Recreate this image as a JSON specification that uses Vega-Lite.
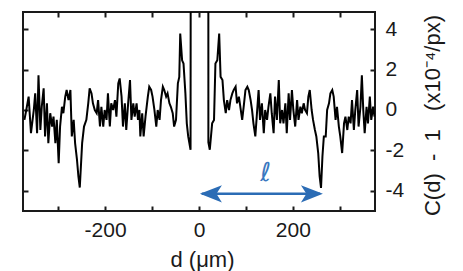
{
  "$schema": "https://vega.github.io/schema/vega-lite/v6.json",
  "width": 352,
  "height": 199,
  "autosize": {"type": "none"},
  "padding": {"left": 23, "top": 12, "right": 88, "bottom": 60},
  "background": "white",
  "config": {
    "view": {"stroke": "#1a1a1a", "strokeWidth": 2},
    "font": "Liberation Sans",
    "axis": {
      "domain": false,
      "grid": false,
      "tickColor": "#1a1a1a",
      "tickWidth": 2,
      "tickSize": -5,
      "labelFont": "Liberation Sans",
      "labelFontSize": 21,
      "labelColor": "#1a1a1a",
      "titleFont": "Liberation Sans",
      "titleFontWeight": "normal",
      "titleFontSize": 22,
      "titleColor": "#1a1a1a"
    }
  },
  "layer": [
    {
      "data": {"values": [
        {"d": -372, "v": -0.49}, {"d": -368, "v": 0}, {"d": -363, "v": 0.66}, {"d": -358, "v": -1.15},
        {"d": -352, "v": 0}, {"d": -349, "v": 0.82}, {"d": -345, "v": -1.15}, {"d": -342, "v": 1.72},
        {"d": -338, "v": -0.99}, {"d": -335, "v": 0.16}, {"d": -331, "v": 1.07}, {"d": -328, "v": -1.31},
        {"d": -324, "v": 0.33}, {"d": -321, "v": -1.64}, {"d": -317, "v": -0.16}, {"d": -313, "v": -0.82},
        {"d": -310, "v": -0.33}, {"d": -306, "v": -1.64}, {"d": -303, "v": -0.49}, {"d": -299, "v": -2.63},
        {"d": -296, "v": -0.82}, {"d": -292, "v": 0.16}, {"d": -289, "v": -0.16}, {"d": -285, "v": 0.66},
        {"d": -282, "v": 0.99}, {"d": -278, "v": 0.49}, {"d": -274, "v": 0.99}, {"d": -271, "v": -1.31},
        {"d": -267, "v": -0.49}, {"d": -264, "v": -1.64}, {"d": -260, "v": -2.46}, {"d": -257, "v": -3.28},
        {"d": -254, "v": -3.84}, {"d": -249, "v": -1.64}, {"d": -245, "v": -0.82}, {"d": -240, "v": -0.49},
        {"d": -236, "v": 0.33}, {"d": -233, "v": 1.07}, {"d": -229, "v": 0.82}, {"d": -226, "v": 0.33},
        {"d": -222, "v": 0}, {"d": -218, "v": -0.16}, {"d": -215, "v": 0.49}, {"d": -211, "v": -0.82},
        {"d": -208, "v": 0.16}, {"d": -204, "v": -0.82}, {"d": -201, "v": 0}, {"d": -197, "v": -0.49},
        {"d": -194, "v": 0.82}, {"d": -190, "v": -0.82}, {"d": -187, "v": 0.33}, {"d": -183, "v": 0},
        {"d": -179, "v": 0.49}, {"d": -176, "v": -0.33}, {"d": -172, "v": 1.32}, {"d": -169, "v": 1.56},
        {"d": -165, "v": 0.66}, {"d": -162, "v": -0.82}, {"d": -158, "v": 0.33}, {"d": -155, "v": -0.99},
        {"d": -151, "v": 0.33}, {"d": -147, "v": 1.48}, {"d": -144, "v": -0.49}, {"d": -140, "v": 0.33},
        {"d": -137, "v": -0.33}, {"d": -133, "v": 0.33}, {"d": -130, "v": -0.49}, {"d": -127, "v": 0},
        {"d": -125, "v": -1.31}, {"d": -121, "v": -0.16}, {"d": -118, "v": -1.31}, {"d": -114, "v": -0.33},
        {"d": -109, "v": 0.66}, {"d": -106, "v": 1.15}, {"d": -102, "v": 0.99}, {"d": -99, "v": 0.66},
        {"d": -95, "v": 0}, {"d": -91, "v": -0.82}, {"d": -88, "v": 0}, {"d": -84, "v": -0.49},
        {"d": -81, "v": 0.49}, {"d": -77, "v": 1.15}, {"d": -74, "v": 0.99}, {"d": -70, "v": 0.66},
        {"d": -67, "v": 0.82}, {"d": -63, "v": 0.33}, {"d": -60, "v": 0.16}, {"d": -56, "v": -0.16},
        {"d": -53, "v": -0.82}, {"d": -49, "v": -0.49}, {"d": -45, "v": 1.32}, {"d": -42, "v": 1.64},
        {"d": -40, "v": 3.78}, {"d": -36, "v": 2.46}, {"d": -33, "v": 2.3}, {"d": -29, "v": 0.82},
        {"d": -26, "v": -0.66}, {"d": -23, "v": -1.31}, {"d": -18, "v": -1.97}, {"d": -15, "v": 80},
        {"d": 0, "v": 300}, {"d": 19, "v": 80}, {"d": 20, "v": -1.6}, {"d": 23, "v": -1.97},
        {"d": 28, "v": -0.66}, {"d": 32, "v": -0.49}, {"d": 35, "v": 2.3}, {"d": 39, "v": 2.46},
        {"d": 43, "v": 3.78}, {"d": 46, "v": 1.64}, {"d": 50, "v": 1.48}, {"d": 53, "v": 0.49},
        {"d": 57, "v": -0.16}, {"d": 60, "v": 0.49}, {"d": 64, "v": 0}, {"d": 67, "v": 0.49},
        {"d": 71, "v": 0.82}, {"d": 74, "v": 0.99}, {"d": 78, "v": 1.15}, {"d": 81, "v": 0.33},
        {"d": 85, "v": 0.66}, {"d": 89, "v": 0}, {"d": 92, "v": -0.49}, {"d": 96, "v": 0.33},
        {"d": 99, "v": 0.99}, {"d": 103, "v": 1.15}, {"d": 106, "v": 0.99}, {"d": 110, "v": 0.49},
        {"d": 113, "v": 0}, {"d": 116, "v": -0.66}, {"d": 120, "v": -1.31}, {"d": 123, "v": -0.33},
        {"d": 127, "v": 0.99}, {"d": 130, "v": -0.49}, {"d": 134, "v": 0.33}, {"d": 138, "v": -1.15},
        {"d": 141, "v": 0}, {"d": 145, "v": -0.49}, {"d": 148, "v": 0.16}, {"d": 152, "v": 0.82},
        {"d": 155, "v": -0.16}, {"d": 159, "v": -1.15}, {"d": 162, "v": 0.66}, {"d": 166, "v": -0.49},
        {"d": 170, "v": 1.48}, {"d": 173, "v": -0.66}, {"d": 177, "v": 0}, {"d": 180, "v": -0.66},
        {"d": 184, "v": 0.33}, {"d": 187, "v": -1.15}, {"d": 191, "v": 0.82}, {"d": 194, "v": -0.49},
        {"d": 198, "v": 0.99}, {"d": 201, "v": 0}, {"d": 205, "v": -0.82}, {"d": 209, "v": 0.49},
        {"d": 212, "v": -0.49}, {"d": 216, "v": 0.16}, {"d": 219, "v": -0.16}, {"d": 223, "v": 0.33},
        {"d": 226, "v": 0}, {"d": 230, "v": -0.16}, {"d": 233, "v": 0.66}, {"d": 236, "v": 0.99},
        {"d": 240, "v": 0}, {"d": 243, "v": -0.49}, {"d": 247, "v": -0.99}, {"d": 250, "v": -1.31},
        {"d": 254, "v": -2.13}, {"d": 257, "v": -3.28}, {"d": 260, "v": -3.86}, {"d": 263, "v": -2.3},
        {"d": 266, "v": -1.31}, {"d": 270, "v": -1.31}, {"d": 273, "v": 0}, {"d": 277, "v": 0.33},
        {"d": 280, "v": 0.82}, {"d": 284, "v": 0.99}, {"d": 287, "v": 0.66}, {"d": 291, "v": -0.49},
        {"d": 294, "v": 0.16}, {"d": 298, "v": -0.82}, {"d": 301, "v": -1.31}, {"d": 305, "v": -2.13},
        {"d": 309, "v": -0.66}, {"d": 312, "v": -0.33}, {"d": 316, "v": -0.99}, {"d": 319, "v": -0.33},
        {"d": 323, "v": -0.66}, {"d": 326, "v": 0.49}, {"d": 330, "v": -0.99}, {"d": 333, "v": 0},
        {"d": 337, "v": 0.99}, {"d": 340, "v": -0.82}, {"d": 344, "v": 0.16}, {"d": 347, "v": 1.72},
        {"d": 350, "v": 0}, {"d": 353, "v": -1.15}, {"d": 357, "v": 0.16}, {"d": 360, "v": -0.66},
        {"d": 364, "v": 0.66}, {"d": 367, "v": -0.49}, {"d": 371, "v": 0.16}, {"d": 374, "v": -0.33}
      ]},
      "mark": {"type": "line", "color": "#000000", "strokeWidth": 2, "clip": true},
      "encoding": {
        "x": {
          "field": "d", "type": "quantitative",
          "scale": {"domain": [-375, 375], "nice": false, "zero": false},
          "axis": {
            "orient": "bottom",
            "values": [-300, -200, -100, 0, 100, 200, 300],
            "labelExpr": "datum.value % 200 === 0 ? '' + datum.value : ''",
            "labelPadding": 13,
            "title": "d (μm)",
            "titleX": 179,
            "titleY": 48,
            "titleAlign": "center",
            "titleBaseline": "middle"
          }
        },
        "y": {
          "field": "v", "type": "quantitative",
          "scale": {"domain": [-5, 4.85], "nice": false, "zero": false},
          "axis": {
            "orient": "right",
            "values": [-4, -2, 0, 2, 4],
            "labelExpr": "'' + datum.value",
            "labelPadding": 15,
            "title": "C(d)\u00a0 - \u00a01\u00a0\u00a0 (x10⁻⁴/px)",
            "titleAngle": 270,
            "titleX": 57,
            "titleY": 103,
            "titleAlign": "center",
            "titleBaseline": "middle"
          }
        }
      }
    },
    {
      "data": {"values": [{"x1": 6, "x2": 258, "y": -4.15}]},
      "mark": {"type": "rule", "color": "#2b6cb5", "strokeWidth": 2.5},
      "encoding": {
        "x": {
          "field": "x1", "type": "quantitative",
          "scale": {"domain": [-375, 375], "nice": false, "zero": false},
          "axis": {"orient": "top", "values": [-300, -200, -100, 0, 100, 200, 300], "labels": false, "title": null}
        },
        "x2": {"field": "x2"},
        "y": {
          "field": "y", "type": "quantitative",
          "scale": {"domain": [-5, 4.85], "nice": false, "zero": false},
          "axis": {"orient": "left", "values": [-4, -2, 0, 2, 4], "labels": false, "title": null}
        }
      }
    },
    {
      "data": {"values": [{"d": 2, "v": -4.15, "dir": "L"}, {"d": 264, "v": -4.15, "dir": "R"}]},
      "mark": {"type": "point", "filled": true, "opacity": 1, "size": 484, "color": "#2b6cb5", "strokeWidth": 0},
      "encoding": {
        "x": {"field": "d", "type": "quantitative", "scale": {"domain": [-375, 375], "nice": false, "zero": false}, "axis": null},
        "y": {"field": "v", "type": "quantitative", "scale": {"domain": [-5, 4.85], "nice": false, "zero": false}, "axis": null},
        "shape": {
          "field": "dir", "type": "nominal",
          "scale": {"domain": ["L", "R"], "range": ["M0,0L2,-0.78L1.5,0L2,0.78Z", "M0,0L-2,-0.78L-1.5,0L-2,0.78Z"]},
          "legend": null
        }
      }
    },
    {
      "data": {"values": [{"d": 142, "v": -3.1, "t": "ℓ"}]},
      "mark": {"type": "text", "font": "DejaVu Sans", "fontSize": 26, "fontStyle": "italic", "color": "#3a78c0", "baseline": "middle", "align": "center"},
      "encoding": {
        "x": {"field": "d", "type": "quantitative", "scale": {"domain": [-375, 375], "nice": false, "zero": false}, "axis": null},
        "y": {"field": "v", "type": "quantitative", "scale": {"domain": [-5, 4.85], "nice": false, "zero": false}, "axis": null},
        "text": {"field": "t"}
      }
    }
  ],
  "resolve": {"axis": {"x": "independent", "y": "independent"}}
}
